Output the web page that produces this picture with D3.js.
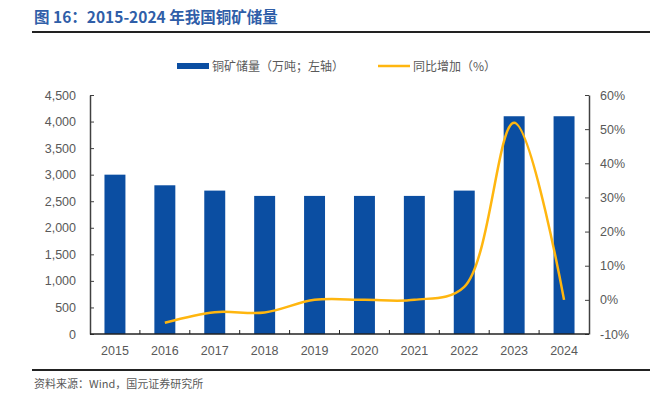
<!DOCTYPE html>
<html>
<meta charset="utf-8">
<title>2015-2024 年我国铜矿储量</title>
<style>
  body { margin: 0; background: #fff; }
  svg text { font-family: "Liberation Sans", Arial, "Noto Sans CJK SC", sans-serif; }
  .cjk { font-family: "Noto Sans CJK SC", sans-serif !important; }
  .tick text { fill: #595959; font-size: 12.5px; }
</style>
<body>
<svg id="chart" width="658" height="399"></svg>
<script src="https://d3js.org/d3.v7.min.js"></script>
<script>
// data
var years = ["2015", "2016", "2017", "2018", "2019", "2020", "2021", "2022", "2023", "2024"];
var reserves = [3000, 2800, 2700, 2600, 2600, 2600, 2600, 2700, 4100, 4100];
var growthYears = ["2016", "2017", "2018", "2019", "2020", "2021", "2022", "2023", "2024"];
var growth = [-6.7, -3.6, -3.7, 0, 0, 0, 3.8, 51.9, 0];
var leftTicks = [0, 500, 1000, 1500, 2000, 2500, 3000, 3500, 4000, 4500];
var rightTicks = [-10, 0, 10, 20, 30, 40, 50, 60];

var blue = "#0b4ea2", gold = "#ffb60f";

var svg = d3.select("#chart");
var margin = {top: 95, right: 69, bottom: 65, left: 90},
    width = 658 - margin.left - margin.right,
    height = 399 - margin.top - margin.bottom;

// title
svg.append("text")
    .attr("class", "cjk")
    .attr("x", 34).attr("y", 23)
    .style("font-size", "15.5px").style("font-weight", "bold")
    .style("fill", "#2f5ea8")
    .text("图 16：2015-2024 年我国铜矿储量");
svg.append("line")
    .attr("x1", 32).attr("x2", 650).attr("y1", 32).attr("y2", 32)
    .style("stroke", "#222").style("stroke-width", 2);

// legend
var lg = svg.append("g").attr("class", "legend");
lg.append("rect").attr("x", 177).attr("y", 63).attr("width", 32).attr("height", 6).style("fill", blue);
lg.append("text").attr("class", "cjk").attr("x", 212).attr("y", 70.5)
    .style("font-size", "12px").style("fill", "#595959").text("铜矿储量（万吨；左轴）");
lg.append("line").attr("x1", 378).attr("x2", 410).attr("y1", 66).attr("y2", 66)
    .style("stroke", gold).style("stroke-width", 2.5);
lg.append("text").attr("class", "cjk").attr("x", 413).attr("y", 70.5)
    .style("font-size", "12px").style("fill", "#595959").text("同比增加（%）");

var g = svg.append("g").attr("transform", "translate(" + margin.left + "," + margin.top + ")");

var x = d3.scaleBand().domain(years).range([0, width]).paddingInner(0.58).paddingOuter(0.29);
var yL = d3.scaleLinear().domain([0, 4500]).range([height, 0]);
var yR = d3.scaleLinear().domain([-10, 60]).range([height, 0]);

// bars
g.selectAll("rect.bar")
    .data(years)
  .enter().append("rect")
    .attr("class", "bar")
    .attr("x", function(d) { return x(d); })
    .attr("width", x.bandwidth())
    .attr("y", function(d, i) { return yL(reserves[i]); })
    .attr("height", function(d, i) { return height - yL(reserves[i]); })
    .style("fill", blue);

// line
var line = d3.line()
    .x(function(d, i) { return x(growthYears[i]) + x.bandwidth() / 2; })
    .y(function(d) { return yR(d); })
    .curve(d3.curveCatmullRom.alpha(0.5));
g.append("path")
    .datum(growth)
    .attr("d", line)
    .style("fill", "none")
    .style("stroke", gold)
    .style("stroke-width", 2.5);

// axes
var fmt = d3.format(",");
var axL = g.append("g")
    .call(d3.axisLeft(yL).tickValues(leftTicks).tickFormat(fmt).tickSizeInner(-4).tickSizeOuter(0).tickPadding(14));
var axR = g.append("g").attr("transform", "translate(" + width + ",0)")
    .call(d3.axisRight(yR).tickValues(rightTicks).tickFormat(function(d) { return d + "%"; }).tickSizeInner(-4).tickSizeOuter(0).tickPadding(11));
[axL, axR].forEach(function(a) {
  a.select(".domain").style("stroke", "#404040").style("stroke-width", 1.5);
  a.selectAll(".tick line").style("stroke", "#404040");
});

// x axis with ticks between categories
var xa = g.append("g").attr("transform", "translate(0," + height + ")");
xa.append("line").attr("x1", 0).attr("x2", width).style("stroke", "#222").style("stroke-width", 1.5);
xa.selectAll("line.sep")
    .data(years.slice(1))
  .enter().append("line")
    .attr("class", "sep")
    .attr("x1", function(d) { return x(d) - x.step() * x.paddingInner() / 2; })
    .attr("x2", function(d) { return x(d) - x.step() * x.paddingInner() / 2; })
    .attr("y1", 0).attr("y2", -4)
    .style("stroke", "#222");
xa.selectAll("text")
    .data(years)
  .enter().append("text")
    .attr("x", function(d) { return x(d) + x.bandwidth() / 2; })
    .attr("y", 21)
    .attr("text-anchor", "middle")
    .style("font-size", "12.5px").style("fill", "#595959")
    .text(function(d) { return d; });

// footer
svg.append("line")
    .attr("x1", 32).attr("x2", 650).attr("y1", 370).attr("y2", 370)
    .style("stroke", "#222").style("stroke-width", 2);
svg.append("text")
    .attr("class", "cjk")
    .attr("x", 34).attr("y", 388)
    .style("font-size", "11px").style("fill", "#595959")
    .text("资料来源：Wind，国元证券研究所");
</script>
</body>
</html>
